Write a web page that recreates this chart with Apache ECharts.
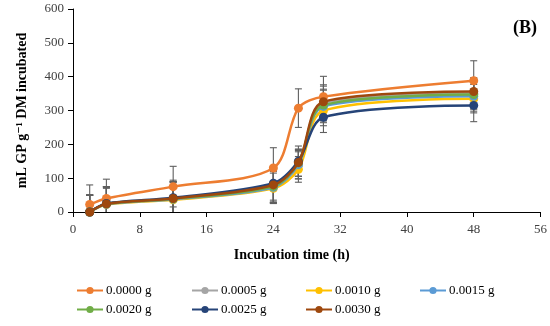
<!DOCTYPE html>
<html>
<head>
<meta charset="utf-8">
<script src="https://cdn.jsdelivr.net/npm/echarts@6/dist/echarts.min.js"></script>
<style>html,body{margin:0;padding:0;background:#fff}#c{width:550px;height:326px}</style>
</head>
<body>
<div id="c"></div>
<script>
var times = [2, 4, 12, 24, 27, 30, 48];
var seriesNames = ['0.0000 g', '0.0005 g', '0.0010 g', '0.0015 g', '0.0020 g', '0.0025 g', '0.0030 g'];
var colors = ['#ED7D31', '#A5A5A5', '#FFC000', '#5B9BD5', '#70AD47', '#264478', '#9E480E'];
var v0000 = [22, 40, 75, 130, 307, 341, 388];
var v0005 = [0, 24, 39, 76, 138, 322, 350];
var v0010 = [0, 22, 36, 70, 126, 300, 335];
var v0015 = [0, 23, 38, 73, 140, 312, 342];
var v0020 = [0, 24, 39, 76, 145, 316, 347];
var v0025 = [0, 25, 42, 85, 150, 280, 315];
var v0030 = [0, 24, 40, 80, 146, 326, 356];
var e0000 = [58, 57, 60, 60, 57, 60, 59];
var e0005 = [50, 50, 50, 48, 40, 50, 45];
var e0010 = [50, 48, 52, 45, 38, 45, 42];
var e0015 = [50, 50, 50, 47, 42, 48, 44];
var e0020 = [50, 50, 51, 46, 40, 47, 43];
var e0025 = [50, 50, 52, 50, 45, 45, 48];
var e0030 = [50, 51, 50, 52, 40, 50, 41];
var yTicks = [0, 100, 200, 300, 400, 500, 600];
var xTicks = [0, 8, 16, 24, 32, 40, 48, 56];

var values = [v0000, v0005, v0010, v0015, v0020, v0025, v0030];
var errors = [e0000, e0005, e0010, e0015, e0020, e0025, e0030];
var font = '"Liberation Serif", "DejaVu Serif", serif';

var chart = echarts.init(document.getElementById('c'));
var series = [];
var errData = [];
values.forEach(function (vals, i) {
  vals.forEach(function (v, j) {
    errData.push([times[j], v - errors[i][j], v + errors[i][j]]);
  });
});
series.push({
  type: 'custom',
  name: 'err',
  z: 1,
  silent: true,
  data: errData,
  encode: { x: 0, y: [1, 2] },
  renderItem: function (params, api) {
    var x = api.value(0);
    var lo = api.coord([x, Math.max(api.value(1), 0)]);
    var hi = api.coord([x, api.value(2)]);
    var hw = 3.5;
    var style = { stroke: '#5f5f5f', lineWidth: 1.1, fill: null };
    var children = [
      { type: 'line', shape: { x1: lo[0], y1: lo[1], x2: hi[0], y2: hi[1] }, style: style },
      { type: 'line', shape: { x1: hi[0] - hw, y1: hi[1], x2: hi[0] + hw, y2: hi[1] }, style: style }
    ];
    if (api.value(1) > 0) {
      children.push({ type: 'line', shape: { x1: lo[0] - hw, y1: lo[1], x2: lo[0] + hw, y2: lo[1] }, style: style });
    }
    return { type: 'group', children: children };
  }
});
values.forEach(function (vals, i) {
  series.push({
    type: 'line',
    name: seriesNames[i],
    z: 2 + i,
    smooth: 0.3,
    data: vals.map(function (v, j) { return [times[j], v]; }),
    symbol: 'circle',
    symbolSize: 9,
    lineStyle: { color: colors[i], width: 2.5 },
    itemStyle: { color: colors[i] }
  });
});

var legendLefts = [76, 191, 305, 419, 76, 191, 305];
var legendTops = [284, 284, 284, 284, 303, 303, 303];
var legends = seriesNames.map(function (n, i) {
  return {
    data: [n], left: legendLefts[i], top: legendTops[i], padding: 0,
    itemWidth: 26, itemHeight: 9, itemGap: 5,
    textStyle: { fontFamily: font, fontSize: 13, color: '#000', padding: [0, 0, 0, -2] }
  };
});

chart.setOption({
  animation: false,
  color: colors,
  title: {
    text: '(B)', right: 13, top: 19, padding: 0,
    textStyle: { fontFamily: font, fontSize: 18, fontWeight: 'bold', color: '#000' }
  },
  legend: legends,
  grid: { left: 73, right: 9, top: 9, bottom: 114, containLabel: false },
  xAxis: {
    type: 'value', min: 0, max: 56, interval: 8,
    name: 'Incubation time (h)', nameLocation: 'middle', nameGap: 36,
    nameTextStyle: { fontFamily: font, fontSize: 14, fontWeight: 'bold', color: '#000', padding: [0, 30, 0, 0] },
    axisLine: { lineStyle: { color: '#000', width: 1 } },
    axisTick: { show: true, length: 5, lineStyle: { color: '#000' } },
    axisLabel: { fontFamily: font, fontSize: 13, color: '#404040', margin: 11,
      formatter: function (v) { return xTicks.indexOf(v) >= 0 ? String(v) : ''; } },
    splitLine: { show: false }
  },
  yAxis: {
    type: 'value', min: 0, max: 600, interval: 100,
    name: 'mL GP g\u207B\u00B9 DM incubated', nameLocation: 'middle', nameGap: 44, nameRotate: 90,
    nameTextStyle: { fontFamily: font, fontSize: 14, fontWeight: 'bold', color: '#000' },
    axisLine: { show: true, lineStyle: { color: '#000', width: 1 } },
    axisTick: { show: true, length: 5, lineStyle: { color: '#000' } },
    axisLabel: { fontFamily: font, fontSize: 13, color: '#404040', margin: 9,
      formatter: function (v) { return yTicks.indexOf(v) >= 0 ? String(v) : ''; } },
    splitLine: { show: false }
  },
  series: series
});
</script>
</body>
</html>
